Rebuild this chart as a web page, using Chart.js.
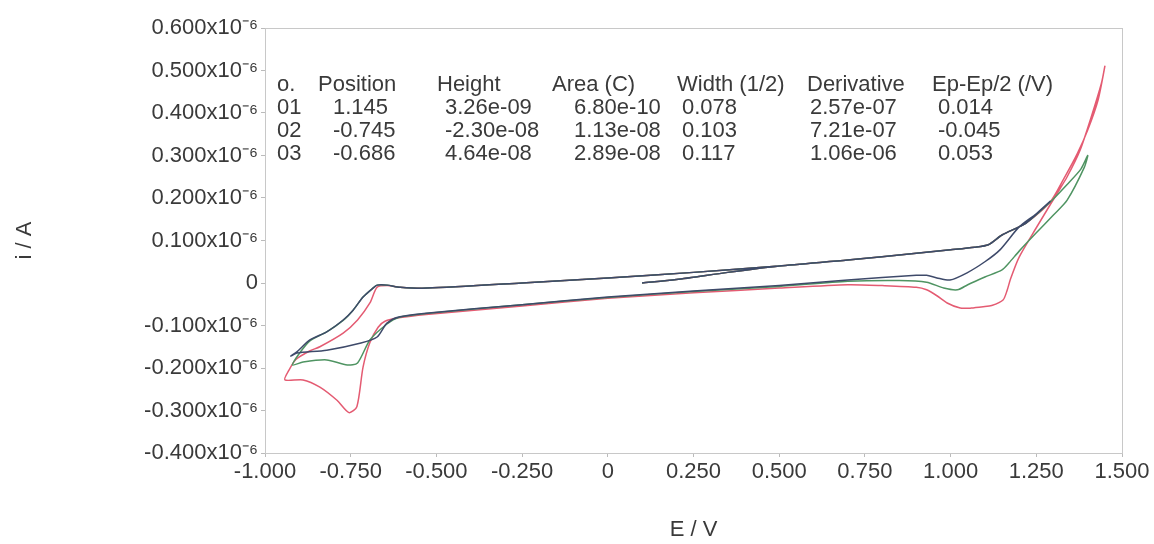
<!DOCTYPE html>
<html lang="en">
<head>
    <meta charset="UTF-8">
    <title>Cyclic voltammogram</title>
    <script src="https://cdn.jsdelivr.net/npm/chart.js"></script>
    <style>
        html, body { margin: 0; padding: 0; background: #fff; }
        .chart-container { position: relative; width: 1154px; height: 544px; }
    </style>
</head>
<body>
    <div class="chart-container">
        <canvas id="cvChart"></canvas>
    </div>

    <script>
        // potential (V) and current (x10^-6 A) for each scan
        const blueE = [0.10, 0.20, 0.35, 0.50, 0.70, 0.90, 1.00, 1.07, 1.11, 1.15, 1.22, 1.29,
            1.25, 1.20, 1.144, 1.10, 1.048, 0.998, 0.96, 0.93, 0.90, 0.70, 0.50, 0.25, 0.00, -0.25, -0.53, -0.61, -0.645, -0.673, -0.72, -0.82, -0.907, -0.925,
            -0.907, -0.869, -0.82, -0.772, -0.743, -0.714, -0.685, -0.673, -0.644, -0.606, -0.527, -0.25, 0.00, 0.25, 0.50];
        const blueI = [0.000, 0.008, 0.025, 0.040, 0.054, 0.070, 0.078, 0.084, 0.090, 0.113, 0.141, 0.192,
            0.163, 0.132, 0.078, 0.050, 0.024, 0.007, 0.012, 0.018, 0.018, 0.007, -0.006, -0.019, -0.033, -0.051, -0.071, -0.080, -0.095, -0.127, -0.141, -0.158, -0.165, -0.172,
            -0.162, -0.134, -0.115, -0.087, -0.064, -0.033, -0.012, -0.005, -0.005, -0.010, -0.012, 0.000, 0.012, 0.025, 0.040];

        const greenE = [0.10, 0.20, 0.35, 0.50, 0.70, 0.90, 1.00, 1.07, 1.11, 1.15, 1.22, 1.29, 1.34, 1.38, 1.40,
            1.39, 1.34, 1.30, 1.25, 1.20, 1.17, 1.15, 1.10, 1.05, 1.02, 0.98, 0.93, 0.85, 0.70, 0.50, 0.25, 0.00, -0.25, -0.53, -0.61, -0.645, -0.694, -0.73, -0.76, -0.82, -0.889, -0.92,
            -0.90, -0.869, -0.82, -0.772, -0.743, -0.714, -0.685, -0.673, -0.644, -0.606, -0.527, -0.25, 0.00, 0.25, 0.50];
        const greenI = [0.000, 0.008, 0.025, 0.040, 0.054, 0.070, 0.078, 0.084, 0.090, 0.113, 0.141, 0.190, 0.232, 0.268, 0.300,
            0.272, 0.195, 0.160, 0.118, 0.075, 0.047, 0.031, 0.014, -0.004, -0.016, -0.012, 0.002, 0.006, 0.004, -0.008, -0.020, -0.034, -0.051, -0.072, -0.081, -0.097, -0.134, -0.188, -0.193, -0.181, -0.186, -0.193,
            -0.166, -0.136, -0.115, -0.088, -0.064, -0.033, -0.012, -0.005, -0.005, -0.010, -0.012, 0.000, 0.012, 0.025, 0.040];

        const redE = [0.10, 0.20, 0.35, 0.50, 0.70, 0.90, 1.00, 1.07, 1.11, 1.15, 1.22, 1.29, 1.33, 1.37, 1.40, 1.43, 1.45,
            1.44, 1.41, 1.378, 1.34, 1.31, 1.25, 1.20, 1.175, 1.165, 1.153, 1.12, 1.095, 1.06, 1.028, 0.99, 0.96, 0.93, 0.90, 0.80, 0.70, 0.50, 0.25, 0.00, -0.25, -0.53, -0.61,
            -0.65, -0.67, -0.694, -0.714, -0.732, -0.755, -0.79, -0.84, -0.889, -0.942,
            -0.93, -0.91, -0.87, -0.84, -0.772, -0.73, -0.694, -0.673, -0.644, -0.606, -0.527, -0.25, 0.00, 0.25, 0.50];
        const redI = [0.000, 0.008, 0.025, 0.040, 0.054, 0.070, 0.078, 0.084, 0.090, 0.113, 0.141, 0.190, 0.245, 0.305, 0.360, 0.430, 0.510,
            0.470, 0.390, 0.313, 0.250, 0.210, 0.130, 0.061, 0.010, -0.017, -0.040, -0.053, -0.056, -0.059, -0.059, -0.047, -0.030, -0.016, -0.010, -0.006, -0.004, -0.012, -0.023, -0.036, -0.054, -0.074, -0.082,
            -0.090, -0.104, -0.140, -0.198, -0.291, -0.305, -0.276, -0.245, -0.228, -0.228,
            -0.205, -0.180, -0.160, -0.150, -0.118, -0.087, -0.047, -0.010, -0.006, -0.010, -0.012, 0.000, 0.012, 0.025, 0.040];

        // peak table printed inside the plot
        const tableHeader = ["o.", "Position", "Height", "Area (C)", "Width (1/2)", "Derivative", "Ep-Ep/2 (/V)"];
        const tableRows = [
            ["01", "1.145", "3.26e-09", "6.80e-10", "0.078", "2.57e-07", "0.014"],
            ["02", "-0.745", "-2.30e-08", "1.13e-08", "0.103", "7.21e-07", "-0.045"],
            ["03", "-0.686", "4.64e-08", "2.89e-08", "0.117", "1.06e-06", "0.053"]
        ];

        const xTickMin = -1.0, xTickMax = 1.5, xTickStep = 0.25;
        const yTickMin = -0.4, yTickMax = 0.6, yTickStep = 0.1;

        const toPoints = (xs, ys) => xs.map((x, i) => ({ x: x, y: ys[i] }));

        const fontFamily = '"Liberation Sans", Arial, sans-serif';
        const textColor = '#3a3a3a';

        // frame + peak table
        const framePlugin = {
            id: 'frame',
            afterDraw(chart) {
                const { ctx, chartArea: a } = chart;
                ctx.save();
                ctx.strokeStyle = '#c8c8c8';
                ctx.lineWidth = 1;
                ctx.strokeRect(a.left + 0.5, a.top + 0.5, a.right - a.left, a.bottom - a.top);

                ctx.font = '22px ' + fontFamily;
                ctx.fillStyle = textColor;
                ctx.textBaseline = 'middle';
                ctx.textAlign = 'left';
                const headX = [277, 318, 437, 552, 677, 807, 932];
                const rowX = [277, 333, 445, 574, 682, 810, 938];
                tableHeader.forEach((t, i) => ctx.fillText(t, headX[i], 85));
                tableRows.forEach((row, r) => {
                    row.forEach((t, i) => ctx.fillText(t, rowX[i], 108 + r * 23));
                });
                ctx.restore();
            }
        };

        const ctx = document.getElementById('cvChart').getContext('2d');
        const cvChart = new Chart(ctx, {
            type: 'scatter',
            data: {
                datasets: [
                    { label: 'scan 1', data: toPoints(blueE, blueI), borderColor: '#3e4a6a' },
                    { label: 'scan 2', data: toPoints(greenE, greenI), borderColor: '#4f9462' },
                    { label: 'scan 3', data: toPoints(redE, redI), borderColor: '#e45b72' }
                ].map(d => Object.assign(d, {
                    showLine: true, pointRadius: 0, borderWidth: 1.5, tension: 0.25, fill: false
                }))
            },
            options: {
                responsive: true,
                maintainAspectRatio: false,
                animation: false,
                layout: { padding: { top: 28, right: 32, left: 0, bottom: 0 } },
                plugins: { legend: { display: false }, tooltip: { enabled: false } },
                scales: {
                    x: {
                        type: 'linear',
                        min: xTickMin, max: xTickMax,
                        afterFit(scale) { scale.height = 91; },
                        grid: { drawOnChartArea: false, tickLength: 4, color: '#bbb' },
                        border: { color: '#bbb' },
                        ticks: {
                            stepSize: xTickStep,
                            color: textColor,
                            font: { family: fontFamily, size: 22 },
                            maxRotation: 0,
                            padding: 2,
                            callback: v => Math.abs(v) < 1e-9 ? '0' : v.toFixed(3)
                        },
                        title: {
                            display: true, text: 'E / V', color: textColor,
                            font: { family: fontFamily, size: 22 },
                            padding: { top: 0, bottom: 1 }
                        }
                    },
                    y: {
                        type: 'linear',
                        min: yTickMin, max: yTickMax,
                        afterFit(scale) { scale.width = 265; },
                        grid: { drawOnChartArea: false, tickLength: 4, color: '#bbb' },
                        border: { color: '#bbb' },
                        ticks: {
                            stepSize: yTickStep,
                            color: textColor,
                            font: { family: fontFamily, size: 22 },
                            padding: 3,
                            callback: v => Math.abs(v) < 1e-9 ? '0' : v.toFixed(3) + 'x10\u207B\u2076'
                        },
                        title: {
                            display: true, text: 'i / A', color: textColor,
                            font: { family: fontFamily, size: 22 },
                            padding: { top: 12, bottom: 0 }
                        }
                    }
                }
            },
            plugins: [framePlugin]
        });
    </script>
</body>
</html>
